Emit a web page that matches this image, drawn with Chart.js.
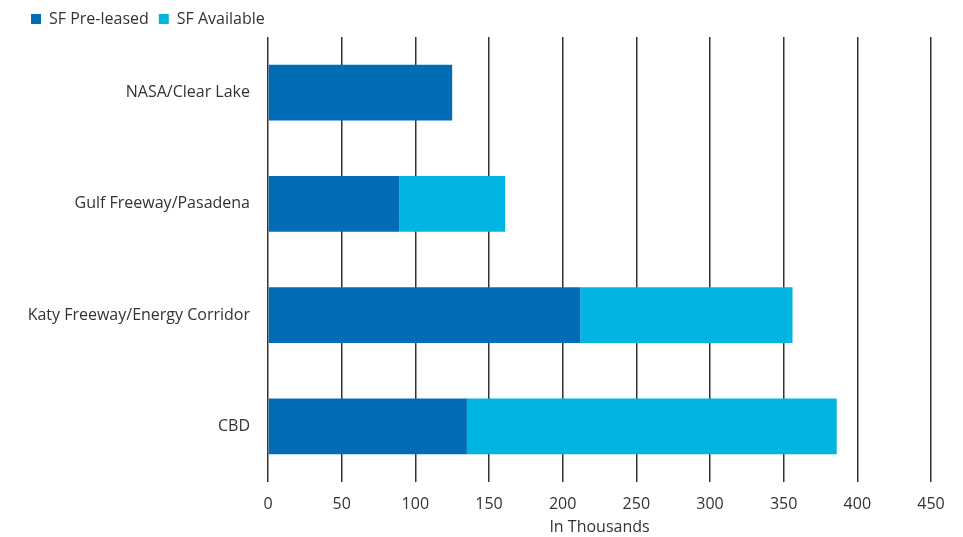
<!DOCTYPE html>
<html lang="en">
<head>
  <meta charset="UTF-8" />
  <title>Pre-leased vs Available SF</title>
  <style>
    html, body {
      margin: 0;
      padding: 0;
      background: #fff;
    }
    #wrap {
      width: 963px;
      height: 537px;
    }
  </style>
  <script src="https://cdn.jsdelivr.net/npm/chart.js"></script>
</head>
<body>
  <div id="wrap"><canvas id="chart" width="963" height="537"></canvas></div>

  <script>
    // data (in thousands of SF)
    const submarkets = ['NASA/Clear Lake', 'Gulf Freeway/Pasadena', 'Katy Freeway/Energy Corridor', 'CBD'];
    const preLeased = [125, 89, 212, 135];
    const available = [0, 72, 144, 251];
    const xTicks = [0, 50, 100, 150, 200, 250, 300, 350, 400, 450];

    const font = { family: '"Open Sans", sans-serif', size: 16 };
    const textColor = '#333';

    new Chart(document.getElementById('chart'), {
      type: 'bar',
      data: {
        labels: submarkets,
        datasets: [{
          label: 'SF Pre-leased',
          data: preLeased,
          backgroundColor: '#006db6',
          barPercentage: 1,
          categoryPercentage: 0.5
        }, {
          label: 'SF Available',
          data: available,
          backgroundColor: '#00b5e2',
          barPercentage: 1,
          categoryPercentage: 0.5
        }]
      },
      options: {
        indexAxis: 'y',
        responsive: false,
        animation: false,
        layout: { padding: { left: 21, right: 32, top: 1, bottom: 0 } },
        plugins: {
          tooltip: { enabled: false },
          legend: {
            position: 'top',
            align: 'start',
            labels: {
              boxWidth: 10,
              boxHeight: 10,
              color: textColor,
              font: font,
              padding: 10
            }
          }
        },
        scales: {
          x: {
            stacked: true,
            min: 0,
            max: 450,
            afterBuildTicks: s => { s.ticks = xTicks.map(v => ({ value: v })); },
            afterFit: s => { s.height = 55; },
            grid: { color: '#333', lineWidth: 1.5, drawTicks: false },
            border: { display: false },
            ticks: { color: textColor, font: font, padding: 13 },
            title: { display: true, text: 'In Thousands', color: textColor, font: font, padding: { top: 0, bottom: 0 } }
          },
          y: {
            stacked: true,
            afterFit: s => { s.width = 247; },
            grid: { display: false, drawTicks: false },
            border: { display: false },
            ticks: { color: textColor, font: font, padding: 18 }
          }
        }
      }
    });
  </script>
</body>
</html>
